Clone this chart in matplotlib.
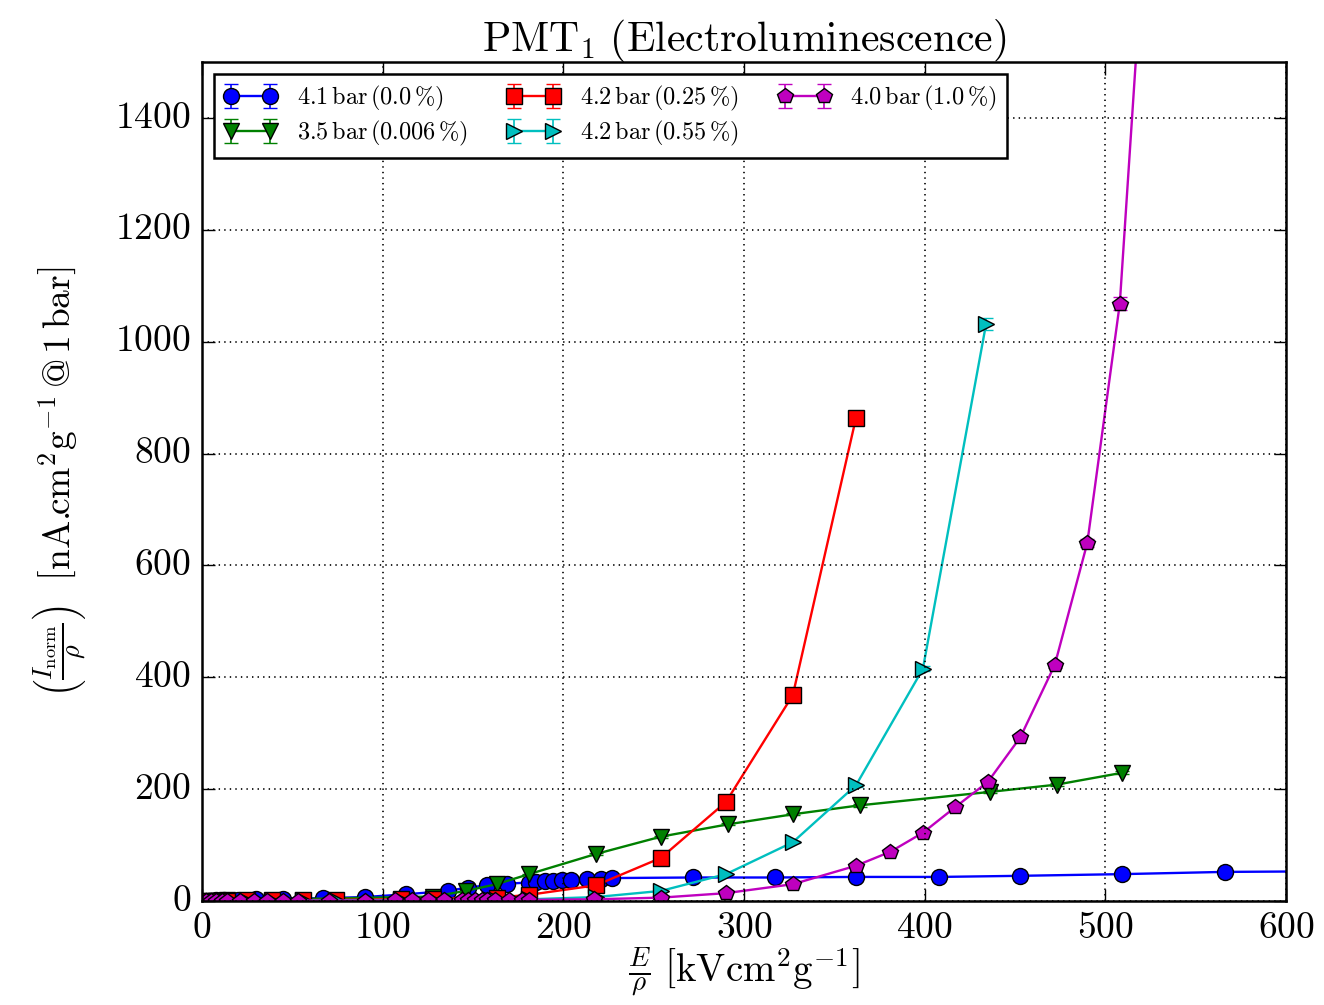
import matplotlib
matplotlib.use('Agg')
import matplotlib.pyplot as plt
import numpy as np

# ====== Dati (E/rho in kV cm^2 g^-1, I_norm/rho) ======
blue_x = [2, 5, 8, 12, 20, 30, 45, 67, 90, 113, 136, 147, 158, 169, 181, 185,
          190, 194, 199, 204, 213, 221, 227, 272, 317, 362, 408, 453, 509, 566, 620]
blue_y = [0, 0.5, 1, 1.5, 2, 3, 4, 5, 7, 12, 18, 24, 28, 31, 33, 34,
          35, 36, 37, 38, 39, 40, 41, 42, 42, 43, 43, 45, 48, 52, 53]

green_x = [3, 8, 14, 128, 146, 163, 181, 218, 254, 291, 327, 364, 436, 473, 509]
green_y = [0, 0.5, 1, 8, 18, 30, 48, 84, 115, 137, 155, 171, 195, 208, 229]

red_x = [3, 8, 14, 25, 39, 56, 74, 110, 128, 163, 181, 218, 254, 290, 327, 362]
red_y = [0, 0.3, 0.6, 1, 1, 1.5, 2, 3, 4, 6, 11, 28, 77, 177, 368, 864]

cyan_x = [3, 8, 14, 25, 39, 56, 74, 110, 128, 163, 181, 218, 254, 290, 327, 362, 399, 434]
cyan_y = [0, 0.2, 0.4, 0.6, 0.8, 1, 1.2, 1.5, 2, 2.5, 3, 7, 18, 48, 105, 207, 415, 1032]

mag_x = [2, 5, 8, 11, 14, 21, 29, 36, 45, 53, 70, 90, 107, 116, 125, 134, 144,
         147, 151, 155, 158, 162, 170, 177, 181, 217, 254, 290, 327, 362, 381,
         399, 417, 435, 453, 472, 490, 508, 526]
mag_y = [0, 0, 0, 0, 0, 0.2, 0.3, 0.4, 0.5, 0.6, 0.7, 0.8, 0.9, 1, 1, 1, 1.2,
         1.2, 1.3, 1.4, 1.5, 1.6, 1.8, 2, 2, 3, 6, 14, 30, 63, 88,
         122, 168, 213, 293, 422, 640, 1068, 1950]

labels = [r'$\mathrm{4.1\,bar\,(0.0\,\%)}$',
          r'$\mathrm{3.5\,bar\,(0.006\,\%)}$',
          r'$\mathrm{4.2\,bar\,(0.25\,\%)}$',
          r'$\mathrm{4.2\,bar\,(0.55\,\%)}$',
          r'$\mathrm{4.0\,bar\,(1.0\,\%)}$']

# ====== Stile ======
plt.style.use('classic')
plt.rcParams['font.family'] = 'serif'
plt.rcParams['font.serif'] = ['cmr10', 'DejaVu Serif']
plt.rcParams['mathtext.fontset'] = 'cm'
plt.rcParams['axes.formatter.use_mathtext'] = True
plt.rcParams['axes.unicode_minus'] = False

fig = plt.figure(figsize=(13.24, 10.05), dpi=100)
ax = fig.add_axes([0.1526, 0.1035, 0.8187, 0.8348])

series = [
    (blue_x, blue_y, 'b', 'o'),
    (green_x, green_y, 'g', 'v'),
    (red_x, red_y, 'r', 's'),
    (cyan_x, cyan_y, 'c', '>'),
    (mag_x, mag_y, 'm', 'p'),
]

for (xs, ys, col, mk), lab in zip(series, labels):
    ys = np.array(ys, dtype=float)
    err = 0.01 * ys + 0.5  # piccole barre d'errore
    ax.errorbar(xs, ys, yerr=err, fmt='-', color=col, marker=mk,
                markersize=11.5, markerfacecolor=col, markeredgecolor='k',
                markeredgewidth=1, linewidth=1.7, capsize=5, ecolor=col,
                elinewidth=1.2, label=lab)

ax.set_xlim(0, 600)
ax.set_ylim(0, 1500)
ax.set_xticks(range(0, 601, 100))
ax.set_yticks(range(0, 1401, 200))
ax.tick_params(labelsize=27, length=9, width=1, direction='in', pad=8)
ax.grid(True, linestyle=':', color='k', linewidth=1.2)
for s in ax.spines.values():
    s.set_linewidth(1.8)

ax.set_title(r'$\mathrm{PMT_1\ (Electroluminescence)}$', fontsize=30, y=1.005)
ax.set_xlabel(r'$\frac{E}{\rho}\ \left[\mathrm{kVcm^2g^{-1}}\right]$', fontsize=28, labelpad=0)
ax.set_ylabel(r'$\left(\frac{I_{\mathrm{norm}}}{\rho}\right)\ \ \left[\mathrm{nA.\!\!cm^2g^{-1}\,@\,1\,bar}\right]$',
              fontsize=27, labelpad=20)

leg = ax.legend(loc='upper left', ncol=3, numpoints=2, fontsize=17.5,
                borderaxespad=0.5, columnspacing=1.6, handlelength=2.2,
                labelspacing=0.25, fancybox=False)
leg.get_frame().set_linewidth(1.8)
leg.get_frame().set_edgecolor('k')

fig.savefig('out.png', dpi=100)
